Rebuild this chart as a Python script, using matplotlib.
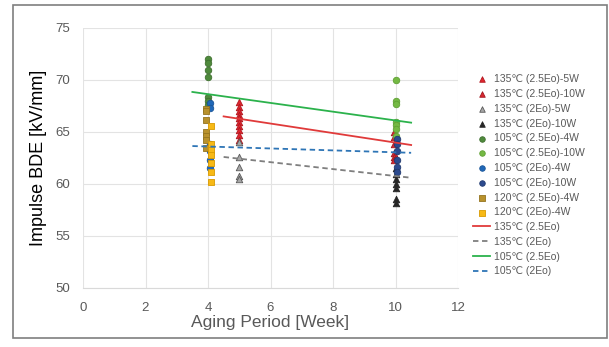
import matplotlib
matplotlib.use("Agg")
import matplotlib.pyplot as plt
from matplotlib.patches import Rectangle

plt.rcParams['font.family'] = ['Liberation Sans', 'DejaVu Sans']

# ---- data ----
w_135_25_5 = [5.0] * 10
v_135_25_5 = [67.9, 67.4, 67.0, 66.6, 66.3, 66.0, 65.6, 65.2, 64.7, 64.2]
w_135_25_10 = [9.95] * 6
v_135_25_10 = [65.0, 64.5, 63.8, 63.0, 62.6, 62.3]
w_135_2_5 = [5.0] * 5
v_135_2_5 = [64.0, 62.6, 61.6, 60.8, 60.5]
w_135_2_10 = [10.0] * 7
v_135_2_10 = [61.5, 61.0, 60.5, 60.0, 59.6, 58.6, 58.2]
w_105_25_4 = [4.0] * 7
v_105_25_4 = [72.0, 71.6, 71.0, 70.3, 68.4, 68.0, 67.6]
w_105_25_10 = [10.0] * 7
v_105_25_10 = [70.0, 68.0, 67.7, 66.0, 65.7, 65.3, 64.6]
w_105_2_4 = [4.05] * 6
v_105_2_4 = [67.8, 67.3, 63.8, 63.2, 62.3, 61.5]
w_105_2_10 = [10.05] * 6
v_105_2_10 = [64.3, 63.8, 63.2, 62.3, 61.6, 61.2]
w_120_25_4 = [3.95] * 7
v_120_25_4 = [67.2, 67.0, 66.2, 65.0, 64.6, 64.2, 63.5]
w_120_2_4 = [4.1] * 7
v_120_2_4 = [65.6, 63.8, 63.3, 62.8, 62.0, 61.2, 60.2]

# trend lines (endpoints)
t_135_25_x = [4.5, 10.5]
t_135_25_y = [66.5, 63.75]
t_135_2_x = [4.5, 10.5]
t_135_2_y = [62.6, 60.6]
t_105_25_x = [3.5, 10.5]
t_105_25_y = [68.85, 65.9]
t_105_2_x = [3.5, 10.5]
t_105_2_y = [63.65, 63.0]

x_ticks = [0, 2, 4, 6, 8, 10, 12]
y_ticks = [50, 55, 60, 65, 70, 75]

fig = plt.figure(figsize=(6.09, 3.47), dpi=100)
ax = fig.add_axes([83/609, 1-288/347, (458-83)/609, (288-28)/347])

ms = 22
scat = [
    ("135℃ (2.5Eo)-5W", w_135_25_5, v_135_25_5, '^', '#e0262f', '#b01820'),
    ("135℃ (2.5Eo)-10W", w_135_25_10, v_135_25_10, '^', '#d9262f', '#a01820'),
    ("135℃ (2Eo)-5W", w_135_2_5, v_135_2_5, '^', '#a6a6a6', '#595959'),
    ("135℃ (2Eo)-10W", w_135_2_10, v_135_2_10, '^', '#262626', '#262626'),
    ("105℃ (2.5Eo)-4W", w_105_25_4, v_105_25_4, 'o', '#4f8a3c', '#3f7030'),
    ("105℃ (2.5Eo)-10W", w_105_25_10, v_105_25_10, 'o', '#74b943', '#60a035'),
    ("105℃ (2Eo)-4W", w_105_2_4, v_105_2_4, 'o', '#2068b8', '#1a5598'),
    ("105℃ (2Eo)-10W", w_105_2_10, v_105_2_10, 'o', '#2c4a8e', '#203a70'),
    ("120℃ (2.5Eo)-4W", w_120_25_4, v_120_25_4, 's', '#b8912c', '#94741f'),
    ("120℃ (2Eo)-4W", w_120_2_4, v_120_2_4, 's', '#f7b916', '#d89a00'),
]
for lab, xs, ys, m, fc, ec in scat:
    ax.scatter(xs, ys, s=ms, marker=m, facecolor=fc, edgecolor=ec,
               linewidths=0.6, label=lab, zorder=3)

ax.plot(t_135_25_x, t_135_25_y, color='#e03a3a', lw=1.3, label="135℃ (2.5Eo)", zorder=4)
ax.plot(t_135_2_x, t_135_2_y, color='#7f7f7f', lw=1.3, ls=(0, (3, 2)), label="135℃ (2Eo)", zorder=4)
ax.plot(t_105_25_x, t_105_25_y, color='#2bb24c', lw=1.3, label="105℃ (2.5Eo)", zorder=4)
ax.plot(t_105_2_x, t_105_2_y, color='#2e75b6', lw=1.3, ls=(0, (3, 2)), label="105℃ (2Eo)", zorder=4)

ax.set_xlim(0, 12)
ax.set_ylim(50, 75)
ax.set_xticks(x_ticks)
ax.set_yticks(y_ticks)
ax.grid(True, color='#e3e3e3', lw=0.8, zorder=0)
ax.set_axisbelow(True)
for s in ['top', 'right', 'left']:
    ax.spines[s].set_visible(False)
ax.spines['bottom'].set_color('#d9d9d9')
ax.tick_params(length=0, labelsize=9.5, labelcolor='#595959')
ax.tick_params(axis='x', pad=10)
ax.tick_params(axis='y', pad=9)
ax.set_xlabel("Aging Period [Week]", fontsize=12.5, color='#595959', labelpad=1)
ax.set_ylabel("Impulse BDE [kV/mm]", fontsize=13, color='black', labelpad=6)

leg = fig.legend(loc='upper left', bbox_to_anchor=(468/609, 1-69/347),
                 frameon=False, fontsize=7.5, labelspacing=0.46,
                 handlelength=1.6, handletextpad=0.35, borderpad=0,
                 markerscale=0.85, labelcolor='#595959')

fig.patches.append(Rectangle((13/609, 1-338/347), (607-13)/609, (338-5)/347,
                             transform=fig.transFigure, fill=False,
                             edgecolor='#7f7f7f', lw=1.2))

fig.savefig("out.png", dpi=100)
